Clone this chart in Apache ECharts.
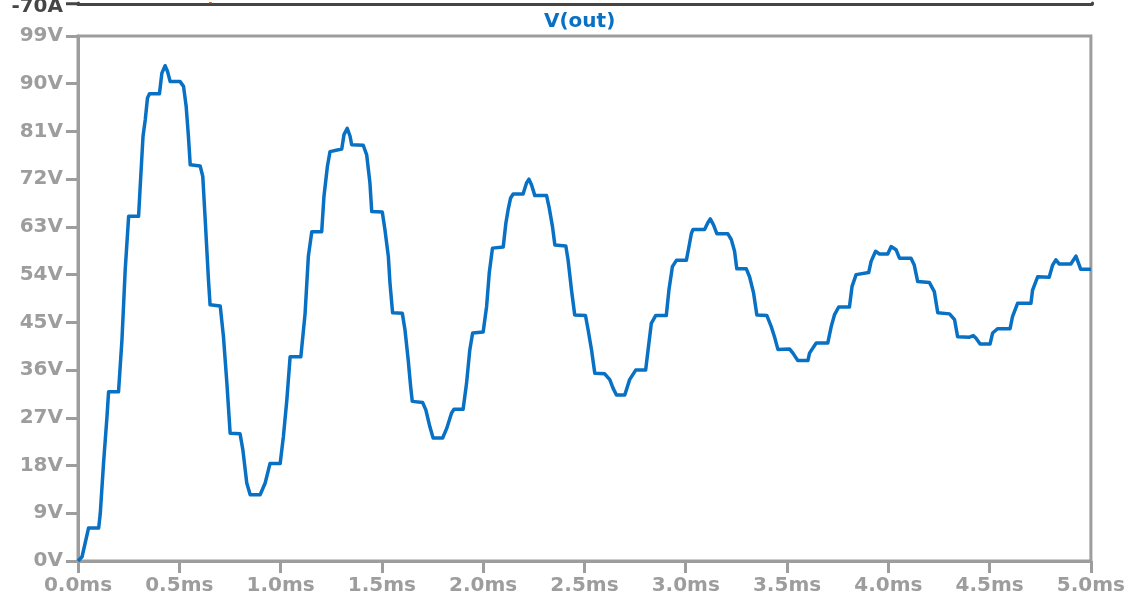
<!DOCTYPE html>
<html>
<head>
<meta charset="utf-8">
<title>V(out)</title>
<script src="https://cdn.jsdelivr.net/npm/echarts@6/dist/echarts.min.js"></script>
<style>
  html, body { margin: 0; padding: 0; background: #ffffff; }
  #chart { width: 1128px; height: 600px; }
</style>
</head>
<body>
<div id="chart"></div>
<script>
// Transient simulation result: time (ms) and output voltage (V)
const timeMs = [
  0, 0.02, 0.052, 0.102, 0.11, 0.126, 0.143, 0.151, 0.2, 0.217,
  0.233, 0.25, 0.299, 0.307, 0.321, 0.332, 0.343, 0.353, 0.402, 0.414,
  0.43, 0.442, 0.455, 0.504, 0.521, 0.534, 0.545, 0.554, 0.603, 0.616,
  0.628, 0.644, 0.652, 0.702, 0.718, 0.735, 0.751, 0.8, 0.814, 0.833,
  0.85, 0.899, 0.924, 0.948, 0.998, 1.014, 1.031, 1.047, 1.1, 1.121,
  1.137, 1.154, 1.203, 1.214, 1.231, 1.244, 1.252, 1.302, 1.313, 1.329,
  1.343, 1.351, 1.408, 1.425, 1.441, 1.45, 1.502, 1.515, 1.532, 1.54,
  1.553, 1.601, 1.614, 1.63, 1.642, 1.65, 1.701, 1.717, 1.737, 1.753,
  1.8, 1.82, 1.844, 1.856, 1.901, 1.918, 1.934, 1.948, 2.0, 2.017,
  2.03, 2.046, 2.099, 2.112, 2.123, 2.135, 2.148, 2.197, 2.214, 2.226,
  2.239, 2.255, 2.313, 2.325, 2.342, 2.354, 2.408, 2.419, 2.436, 2.452,
  2.505, 2.518, 2.535, 2.551, 2.6, 2.625, 2.641, 2.658, 2.699, 2.723,
  2.753, 2.802, 2.814, 2.83, 2.852, 2.904, 2.917, 2.934, 2.954, 3.003,
  3.016, 3.028, 3.036, 3.093, 3.109, 3.121, 3.137, 3.154, 3.208, 3.225,
  3.241, 3.252, 3.299, 3.315, 3.335, 3.351, 3.4, 3.422, 3.438, 3.455,
  3.512, 3.529, 3.553, 3.603, 3.611, 3.644, 3.701, 3.718, 3.734, 3.755,
  3.808, 3.821, 3.841, 3.903, 3.915, 3.937, 3.956, 3.997, 4.014, 4.038,
  4.055, 4.112, 4.128, 4.145, 4.203, 4.227, 4.244, 4.302, 4.327, 4.342,
  4.4, 4.42, 4.433, 4.453, 4.502, 4.515, 4.539, 4.601, 4.613, 4.638,
  4.704, 4.712, 4.737, 4.794, 4.811, 4.827, 4.844, 4.901, 4.926, 4.95,
  5.0
];
const voutV = [
  0, 0.8, 6.2, 6.2, 9.0, 18.4, 27.2, 31.9, 31.9, 41.7,
  54.9, 65.0, 65.0, 70.6, 80.1, 83.2, 87.3, 88.1, 88.1, 92.0,
  93.4, 92.3, 90.4, 90.4, 89.5, 85.7, 80.1, 74.7, 74.5, 72.5,
  64.3, 53.0, 48.3, 48.1, 42.3, 33.5, 24.1, 24.0, 20.9, 14.7,
  12.5, 12.5, 14.7, 18.4, 18.4, 23.5, 30.4, 38.5, 38.5, 46.7,
  57.4, 62.1, 62.1, 68.7, 74.4, 77.2, 77.5, 77.7, 80.4, 81.6,
  80.1, 78.5, 78.4, 76.6, 71.3, 65.9, 65.8, 62.5, 57.4, 52.4,
  46.8, 46.7, 43.6, 37.9, 32.9, 30.1, 29.9, 28.5, 25.3, 23.2,
  23.2, 25.0, 27.9, 28.6, 28.6, 33.5, 39.8, 43.0, 43.2, 48.0,
  54.3, 59.0, 59.2, 63.7, 66.2, 68.4, 69.2, 69.2, 71.3, 72.0,
  70.9, 68.9, 68.9, 66.8, 63.1, 59.6, 59.4, 56.8, 51.1, 46.4,
  46.3, 43.6, 39.8, 35.4, 35.3, 34.2, 32.6, 31.3, 31.3, 34.2,
  36.0, 36.0, 39.8, 44.8, 46.3, 46.3, 51.1, 55.5, 56.7, 56.7,
  59.3, 61.8, 62.5, 62.5, 63.8, 64.5, 63.4, 61.7, 61.7, 60.6,
  58.4, 55.1, 55.1, 53.6, 50.5, 46.4, 46.3, 44.2, 42.3, 39.9,
  40.0, 39.2, 37.8, 37.8, 39.2, 41.1, 41.1, 44.2, 46.4, 47.9,
  47.9, 51.8, 54.0, 54.4, 56.5, 58.4, 57.9, 57.9, 59.3, 58.7,
  57.1, 57.1, 55.8, 52.7, 52.5, 50.8, 46.8, 46.6, 45.5, 42.3,
  42.2, 42.5, 42.0, 40.9, 40.9, 43.0, 43.8, 43.8, 46.1, 48.6,
  48.6, 51.1, 53.6, 53.5, 55.8, 56.8, 56.0, 56.0, 57.5, 55.0,
  55.0
];

// Visible tail of the current trace in the pane above (A)
const currentTimeMs = [0.646, 0.653, 0.660];
const currentA = [-68, -70, -68];

// Axis ranges and tick steps
const voltTicks = { min: 0, max: 99, step: 9 };
const timeTicks = { min: 0, max: 5, step: 0.5 };
// Only the bottom edge of the current pane is in view
const currentTicks = { min: -70, max: -69, step: 1, labelled: [-70] };

const zip = (xs, ys) => xs.map((x, i) => [x, ys[i]]);

const FONT = 'DejaVu Sans';
const GREY = '#9d9d9d';
const DARK = '#454545';
const BLUE = '#0871c4';

const chart = echarts.init(document.getElementById('chart'), null, { renderer: 'canvas' });

chart.setOption({
  animation: false,
  backgroundColor: '#ffffff',
  title: {
    text: 'V(out)',
    left: 544,
    top: 12,
    padding: 0,
    textStyle: { color: BLUE, fontFamily: FONT, fontWeight: 'bold', fontSize: 20 }
  },
  grid: [
    { left: 78, right: 36, top: 36, bottom: 39, show: true, borderColor: GREY, borderWidth: 3, containLabel: false },
    { left: 78, right: 36, top: 0, height: 3, show: false, containLabel: false }
  ],
  xAxis: [
    {
      type: 'value', gridIndex: 0,
      min: timeTicks.min, max: timeTicks.max, interval: timeTicks.step,
      axisLine: { show: true, lineStyle: { color: GREY, width: 3 } },
      axisTick: { show: true, length: 12, lineStyle: { color: GREY, width: 3 } },
      splitLine: { show: false },
      axisLabel: {
        margin: 15, color: GREY, fontFamily: FONT, fontWeight: 'bold', fontSize: 20,
        formatter: v => v.toFixed(1) + 'ms'
      }
    },
    {
      type: 'value', gridIndex: 1,
      min: timeTicks.min, max: timeTicks.max, interval: timeTicks.step,
      axisLine: { show: true, lineStyle: { color: DARK, width: 3 } },
      axisTick: { show: false },
      splitLine: { show: false },
      axisLabel: { show: false }
    }
  ],
  yAxis: [
    {
      type: 'value', gridIndex: 0,
      min: voltTicks.min, max: voltTicks.max, interval: voltTicks.step,
      axisLine: { show: true, lineStyle: { color: GREY, width: 3 } },
      axisTick: { show: true, length: 12, lineStyle: { color: GREY, width: 3 } },
      splitLine: { show: false },
      axisLabel: {
        margin: 15, color: GREY, fontFamily: FONT, fontWeight: 'bold', fontSize: 20,
        formatter: '{value}V'
      }
    },
    {
      type: 'value', gridIndex: 1, position: 'left',
      min: currentTicks.min, max: currentTicks.max, interval: currentTicks.step,
      axisLine: { show: true, onZero: false, lineStyle: { color: DARK, width: 3 } },
      axisTick: { show: true, length: 12, customValues: currentTicks.labelled, lineStyle: { color: DARK, width: 3 } },
      splitLine: { show: false },
      axisLabel: {
        margin: 15,
        customValues: currentTicks.labelled,
        formatter: v => '{amp|' + v + 'A}',
        rich: {
          amp: {
            color: DARK, fontFamily: FONT, fontWeight: 'bold', fontSize: 20,
            padding: [7, 0, 0, 0]
          }
        }
      }
    },
    {
      type: 'value', gridIndex: 1, position: 'right',
      min: currentTicks.min, max: currentTicks.max, interval: currentTicks.step,
      axisLine: { show: true, onZero: false, lineStyle: { color: DARK, width: 3 } },
      axisTick: { show: false },
      splitLine: { show: false },
      axisLabel: { show: false }
    }
  ],
  series: [
    {
      name: 'V(out)',
      type: 'line',
      xAxisIndex: 0, yAxisIndex: 0,
      data: zip(timeMs, voutV),
      showSymbol: false,
      smooth: false,
      clip: true,
      lineStyle: { color: BLUE, width: 3.5, join: 'round' }
    },
    {
      name: 'current',
      type: 'line',
      xAxisIndex: 1, yAxisIndex: 1,
      data: zip(currentTimeMs, currentA),
      showSymbol: false,
      clip: true,
      lineStyle: { color: '#e8611a', width: 2 }
    }
  ]
});
</script>
</body>
</html>
